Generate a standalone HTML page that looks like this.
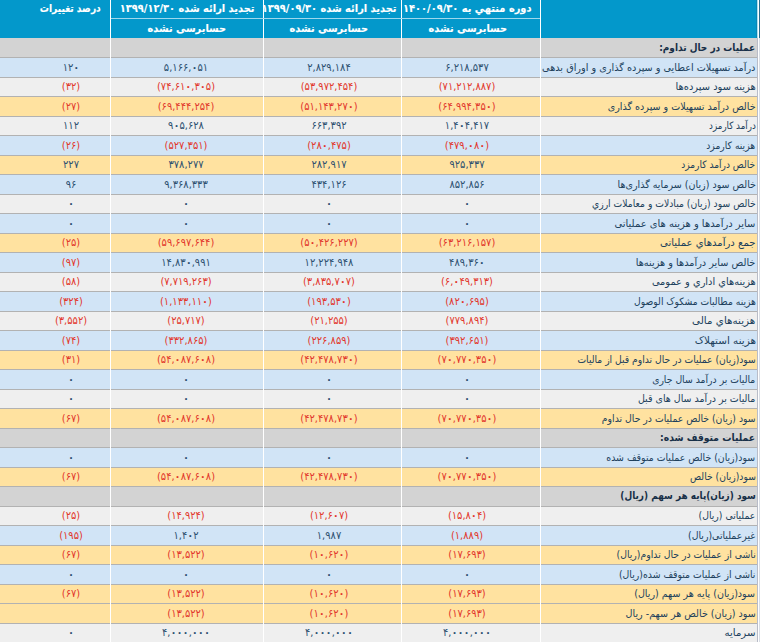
<!DOCTYPE html><html lang="fa"><head><meta charset="utf-8"><title>سود و زیان</title><style>

html,body{margin:0;padding:0;}
body{width:760px;height:642px;overflow:hidden;background:#fff;position:relative;
 font-family:"DejaVu Sans","Liberation Sans",sans-serif;}
div{position:absolute;box-sizing:border-box;}
.hd{left:0;top:0;width:757px;height:38px;background:#0398cb;}
.r{left:0;width:757px;}
.ln{left:0;width:757px;height:1px;background:#b2b2b2;}
.vl{width:1px;background:#fff;}
.t{white-space:nowrap;}
.lab{right:4.5px;direction:rtl;text-align:right;font-size:10.2px;color:#203f5c;transform-origin:100% 50%;}
.lab.b{font-weight:bold;font-size:10.4px;color:#172f47;}
.n{width:200px;text-align:center;direction:ltr;font-size:11px;color:#2d5070;transform:scaleX(0.9);}
.n.neg{color:#e2372c;}
.h{font-size:11px;font-weight:bold;color:#fff;-webkit-text-stroke:0.12px #fff;direction:rtl;text-align:right;transform-origin:100% 50%;}
.redge1{left:757px;width:1px;top:38px;height:604px;background:#b8bcc8;}
.redge0{left:757px;width:1px;top:0;height:38px;background:#a6e0f2;}
.redge5{left:756px;width:1px;top:0;height:38px;background:#0a86b4;}
.redge2{left:758px;width:1px;top:0;height:642px;background:#fff;}
.redge3{left:759px;width:1px;top:38px;height:604px;background:#d8dde5;}
.redge4{left:759px;width:1px;top:0;height:38px;background:#2a6e90;}

</style></head><body>
<div class="r" style="top:38px;height:19px;background:#d3d3d3"></div>
<div class="ln" style="top:57px"></div>
<div class="t lab b" style="top:38px;line-height:19px;transform:scaleX(0.8636)">عملیات در حال تداوم:</div>
<div class="r" style="top:58px;height:19px;background:#d1e4f6"></div>
<div class="ln" style="top:77px"></div>
<div class="t lab" style="top:58px;line-height:19px;transform:scaleX(0.9505)">درآمد تسهیلات اعطایی و سپرده گذاری و اوراق بدهی</div>
<div class="t n" style="left:367px;top:58px;line-height:19px">۶,۲۱۸,۵۳۷</div>
<div class="t n" style="left:229px;top:58px;line-height:19px">۲,۸۲۹,۱۸۴</div>
<div class="t n" style="left:86px;top:58px;line-height:19px">۵,۱۶۶,<b>۰</b>۵۱</div>
<div class="t n" style="left:-29px;top:58px;line-height:19px">۱۲<b>۰</b></div>
<div class="r" style="top:78px;height:18px;background:#efefef"></div>
<div class="ln" style="top:96px"></div>
<div class="t lab" style="top:78px;line-height:18px;transform:scaleX(0.9696)">هزینه سود سپرده‌ها</div>
<div class="t n neg" style="left:367px;top:78px;line-height:18px">(۷۱,۲۱۲,۸۸۷)</div>
<div class="t n neg" style="left:229px;top:78px;line-height:18px">(۵۳,۹۷۲,۴۵۴)</div>
<div class="t n neg" style="left:86px;top:78px;line-height:18px">(۷۴,۶۱<b>۰</b>,۳<b>۰</b>۵)</div>
<div class="t n neg" style="left:-29px;top:78px;line-height:18px">(۳۲)</div>
<div class="r" style="top:97px;height:19px;background:#ffe2a0"></div>
<div class="ln" style="top:116px"></div>
<div class="t lab" style="top:97px;line-height:19px;transform:scaleX(0.9382)">خالص درآمد تسهیلات و سپرده گذاری</div>
<div class="t n neg" style="left:367px;top:97px;line-height:19px">(۶۴,۹۹۴,۳۵<b>۰</b>)</div>
<div class="t n neg" style="left:229px;top:97px;line-height:19px">(۵۱,۱۴۳,۲۷<b>۰</b>)</div>
<div class="t n neg" style="left:86px;top:97px;line-height:19px">(۶۹,۴۴۴,۲۵۴)</div>
<div class="t n neg" style="left:-29px;top:97px;line-height:19px">(۲۷)</div>
<div class="r" style="top:117px;height:18px;background:#efefef"></div>
<div class="ln" style="top:135px"></div>
<div class="t lab" style="top:117px;line-height:18px;transform:scaleX(0.8529)">درآمد کارمزد</div>
<div class="t n" style="left:367px;top:117px;line-height:18px">۱,۴<b>۰</b>۴,۴۱۷</div>
<div class="t n" style="left:229px;top:117px;line-height:18px">۶۶۳,۳۹۲</div>
<div class="t n" style="left:86px;top:117px;line-height:18px">۹<b>۰</b>۵,۶۲۸</div>
<div class="t n" style="left:-29px;top:117px;line-height:18px">۱۱۲</div>
<div class="r" style="top:136px;height:19px;background:#d1e4f6"></div>
<div class="ln" style="top:155px"></div>
<div class="t lab" style="top:136px;line-height:19px;transform:scaleX(0.9038)">هزینه کارمزد</div>
<div class="t n neg" style="left:367px;top:136px;line-height:19px">(۴۷۹,<b>۰</b>۸<b>۰</b>)</div>
<div class="t n neg" style="left:229px;top:136px;line-height:19px">(۲۸<b>۰</b>,۴۷۵)</div>
<div class="t n neg" style="left:86px;top:136px;line-height:19px">(۵۲۷,۳۵۱)</div>
<div class="t n neg" style="left:-29px;top:136px;line-height:19px">(۲۶)</div>
<div class="r" style="top:156px;height:18px;background:#ffe2a0"></div>
<div class="ln" style="top:174px"></div>
<div class="t lab" style="top:156px;line-height:18px;transform:scaleX(0.8891)">خالص درآمد کارمزد</div>
<div class="t n" style="left:367px;top:156px;line-height:18px">۹۲۵,۳۳۷</div>
<div class="t n" style="left:229px;top:156px;line-height:18px">۲۸۲,۹۱۷</div>
<div class="t n" style="left:86px;top:156px;line-height:18px">۳۷۸,۲۷۷</div>
<div class="t n" style="left:-29px;top:156px;line-height:18px">۲۲۷</div>
<div class="r" style="top:175px;height:19px;background:#d1e4f6"></div>
<div class="ln" style="top:194px"></div>
<div class="t lab" style="top:175px;line-height:19px;transform:scaleX(0.9354)">خالص سود (زیان) سرمایه گذاری‌ها</div>
<div class="t n" style="left:367px;top:175px;line-height:19px">۸۵۲,۸۵۶</div>
<div class="t n" style="left:229px;top:175px;line-height:19px">۴۳۴,۱۲۶</div>
<div class="t n" style="left:86px;top:175px;line-height:19px">۹,۳۶۸,۳۳۳</div>
<div class="t n" style="left:-29px;top:175px;line-height:19px">۹۶</div>
<div class="r" style="top:195px;height:18px;background:#efefef"></div>
<div class="ln" style="top:213px"></div>
<div class="t lab" style="top:195px;line-height:18px;transform:scaleX(0.9061)">خالص سود (زیان) مبادلات و معاملات ارزي</div>
<div class="t n" style="left:367px;top:195px;line-height:18px"><b>۰</b></div>
<div class="t n" style="left:229px;top:195px;line-height:18px"><b>۰</b></div>
<div class="t n" style="left:86px;top:195px;line-height:18px"><b>۰</b></div>
<div class="t n" style="left:-29px;top:195px;line-height:18px"><b>۰</b></div>
<div class="r" style="top:214px;height:19px;background:#d1e4f6"></div>
<div class="ln" style="top:233px"></div>
<div class="t lab" style="top:214px;line-height:19px;transform:scaleX(0.9757)">سایر درآمدها و هزینه های عملیاتی</div>
<div class="t n" style="left:367px;top:214px;line-height:19px"><b>۰</b></div>
<div class="t n" style="left:229px;top:214px;line-height:19px"><b>۰</b></div>
<div class="t n" style="left:86px;top:214px;line-height:19px"><b>۰</b></div>
<div class="t n" style="left:-29px;top:214px;line-height:19px"><b>۰</b></div>
<div class="r" style="top:234px;height:18px;background:#ffe2a0"></div>
<div class="ln" style="top:252px"></div>
<div class="t lab" style="top:234px;line-height:18px;transform:scaleX(0.9896)">جمع درآمدهاي عملیاتی</div>
<div class="t n neg" style="left:367px;top:234px;line-height:18px">(۶۳,۲۱۶,۱۵۷)</div>
<div class="t n neg" style="left:229px;top:234px;line-height:18px">(۵<b>۰</b>,۴۲۶,۲۲۷)</div>
<div class="t n neg" style="left:86px;top:234px;line-height:18px">(۵۹,۶۹۷,۶۴۴)</div>
<div class="t n neg" style="left:-29px;top:234px;line-height:18px">(۲۵)</div>
<div class="r" style="top:253px;height:19px;background:#d1e4f6"></div>
<div class="ln" style="top:272px"></div>
<div class="t lab" style="top:253px;line-height:19px;transform:scaleX(0.9541)">خالص سایر درآمدها و هزینه‌ها</div>
<div class="t n" style="left:367px;top:253px;line-height:19px">۴۸۹,۳۶<b>۰</b></div>
<div class="t n" style="left:229px;top:253px;line-height:19px">۱۲,۲۲۴,۹۴۸</div>
<div class="t n" style="left:86px;top:253px;line-height:19px">۱۴,۸۳<b>۰</b>,۹۹۱</div>
<div class="t n neg" style="left:-29px;top:253px;line-height:19px">(۹۷)</div>
<div class="r" style="top:273px;height:18px;background:#efefef"></div>
<div class="ln" style="top:291px"></div>
<div class="t lab" style="top:273px;line-height:18px;transform:scaleX(0.9637)">هزینه‌هاي اداري و عمومی</div>
<div class="t n neg" style="left:367px;top:273px;line-height:18px">(۶,<b>۰</b>۴۹,۳۱۳)</div>
<div class="t n neg" style="left:229px;top:273px;line-height:18px">(۳,۸۳۵,۷<b>۰</b>۷)</div>
<div class="t n neg" style="left:86px;top:273px;line-height:18px">(۷,۷۱۹,۲۶۳)</div>
<div class="t n neg" style="left:-29px;top:273px;line-height:18px">(۵۸)</div>
<div class="r" style="top:292px;height:19px;background:#d1e4f6"></div>
<div class="ln" style="top:311px"></div>
<div class="t lab" style="top:292px;line-height:19px;transform:scaleX(0.9030)">هزینه مطالبات مشکوک الوصول</div>
<div class="t n neg" style="left:367px;top:292px;line-height:19px">(۸۲<b>۰</b>,۶۹۵)</div>
<div class="t n neg" style="left:229px;top:292px;line-height:19px">(۱۹۳,۵۳<b>۰</b>)</div>
<div class="t n neg" style="left:86px;top:292px;line-height:19px">(۱,۱۳۳,۱۱<b>۰</b>)</div>
<div class="t n neg" style="left:-29px;top:292px;line-height:19px">(۳۲۴)</div>
<div class="r" style="top:312px;height:18px;background:#efefef"></div>
<div class="ln" style="top:330px"></div>
<div class="t lab" style="top:312px;line-height:18px;transform:scaleX(1.0146)">هزینه‌هاي مالی</div>
<div class="t n neg" style="left:367px;top:312px;line-height:18px">(۷۷۹,۸۹۴)</div>
<div class="t n neg" style="left:229px;top:312px;line-height:18px">(۲۱,۲۵۵)</div>
<div class="t n neg" style="left:86px;top:312px;line-height:18px">(۲۵,۷۱۷)</div>
<div class="t n neg" style="left:-29px;top:312px;line-height:18px">(۳,۵۵۲)</div>
<div class="r" style="top:331px;height:19px;background:#d1e4f6"></div>
<div class="ln" style="top:350px"></div>
<div class="t lab" style="top:331px;line-height:19px;transform:scaleX(1.0217)">هزینه استهلاک</div>
<div class="t n neg" style="left:367px;top:331px;line-height:19px">(۳۹۲,۶۵۱)</div>
<div class="t n neg" style="left:229px;top:331px;line-height:19px">(۲۲۶,۸۵۹)</div>
<div class="t n neg" style="left:86px;top:331px;line-height:19px">(۳۳۲,۸۶۵)</div>
<div class="t n neg" style="left:-29px;top:331px;line-height:19px">(۷۴)</div>
<div class="r" style="top:351px;height:18px;background:#ffe2a0"></div>
<div class="ln" style="top:369px"></div>
<div class="t lab" style="top:351px;line-height:18px;transform:scaleX(0.9015)">سود(زیان) عملیات در حال تداوم قبل از مالیات</div>
<div class="t n neg" style="left:367px;top:351px;line-height:18px">(۷<b>۰</b>,۷۷<b>۰</b>,۳۵<b>۰</b>)</div>
<div class="t n neg" style="left:229px;top:351px;line-height:18px">(۴۲,۴۷۸,۷۳<b>۰</b>)</div>
<div class="t n neg" style="left:86px;top:351px;line-height:18px">(۵۴,<b>۰</b>۸۷,۶<b>۰</b>۸)</div>
<div class="t n neg" style="left:-29px;top:351px;line-height:18px">(۳۱)</div>
<div class="r" style="top:370px;height:19px;background:#d1e4f6"></div>
<div class="ln" style="top:389px"></div>
<div class="t lab" style="top:370px;line-height:19px;transform:scaleX(0.9106)">مالیات بر درآمد سال جاری</div>
<div class="t n" style="left:367px;top:370px;line-height:19px"><b>۰</b></div>
<div class="t n" style="left:229px;top:370px;line-height:19px"><b>۰</b></div>
<div class="t n" style="left:86px;top:370px;line-height:19px"><b>۰</b></div>
<div class="t n" style="left:-29px;top:370px;line-height:19px"><b>۰</b></div>
<div class="r" style="top:390px;height:18px;background:#efefef"></div>
<div class="ln" style="top:408px"></div>
<div class="t lab" style="top:390px;line-height:18px;transform:scaleX(0.9294)">مالیات بر درآمد سال های قبل</div>
<div class="t n" style="left:367px;top:390px;line-height:18px"><b>۰</b></div>
<div class="t n" style="left:229px;top:390px;line-height:18px"><b>۰</b></div>
<div class="t n" style="left:86px;top:390px;line-height:18px"><b>۰</b></div>
<div class="t n" style="left:-29px;top:390px;line-height:18px"><b>۰</b></div>
<div class="r" style="top:409px;height:19px;background:#ffe2a0"></div>
<div class="ln" style="top:428px"></div>
<div class="t lab" style="top:409px;line-height:19px;transform:scaleX(0.9120)">سود (زیان) خالص عملیات در حال تداوم</div>
<div class="t n neg" style="left:367px;top:409px;line-height:19px">(۷<b>۰</b>,۷۷<b>۰</b>,۳۵<b>۰</b>)</div>
<div class="t n neg" style="left:229px;top:409px;line-height:19px">(۴۲,۴۷۸,۷۳<b>۰</b>)</div>
<div class="t n neg" style="left:86px;top:409px;line-height:19px">(۵۴,<b>۰</b>۸۷,۶<b>۰</b>۸)</div>
<div class="t n neg" style="left:-29px;top:409px;line-height:19px">(۶۷)</div>
<div class="r" style="top:429px;height:18px;background:#d3d3d3"></div>
<div class="ln" style="top:447px"></div>
<div class="t lab b" style="top:428px;line-height:18px;transform:scaleX(0.8871)">عملیات متوقف شده:</div>
<div class="r" style="top:448px;height:19px;background:#d1e4f6"></div>
<div class="ln" style="top:467px"></div>
<div class="t lab" style="top:448px;line-height:19px;transform:scaleX(0.9180)">سود(زیان) خالص عملیات متوقف شده</div>
<div class="t n" style="left:367px;top:448px;line-height:19px"><b>۰</b></div>
<div class="t n" style="left:229px;top:448px;line-height:19px"><b>۰</b></div>
<div class="t n" style="left:86px;top:448px;line-height:19px"><b>۰</b></div>
<div class="t n" style="left:-29px;top:448px;line-height:19px"><b>۰</b></div>
<div class="r" style="top:468px;height:18px;background:#ffe2a0"></div>
<div class="ln" style="top:486px"></div>
<div class="t lab" style="top:468px;line-height:18px;transform:scaleX(0.9030)">سود(زیان) خالص</div>
<div class="t n neg" style="left:367px;top:468px;line-height:18px">(۷<b>۰</b>,۷۷<b>۰</b>,۳۵<b>۰</b>)</div>
<div class="t n neg" style="left:229px;top:468px;line-height:18px">(۴۲,۴۷۸,۷۳<b>۰</b>)</div>
<div class="t n neg" style="left:86px;top:468px;line-height:18px">(۵۴,<b>۰</b>۸۷,۶<b>۰</b>۸)</div>
<div class="t n neg" style="left:-29px;top:468px;line-height:18px">(۶۷)</div>
<div class="r" style="top:487px;height:19px;background:#d3d3d3"></div>
<div class="ln" style="top:506px"></div>
<div class="t lab b" style="top:486px;line-height:19px;transform:scaleX(0.8586)">سود (زیان)پایه هر سهم (ریال)</div>
<div class="r" style="top:507px;height:18px;background:#efefef"></div>
<div class="ln" style="top:525px"></div>
<div class="t lab" style="top:507px;line-height:18px;transform:scaleX(0.9101)">عملیاتی (ریال)</div>
<div class="t n neg" style="left:367px;top:507px;line-height:18px">(۱۵,۸<b>۰</b>۴)</div>
<div class="t n neg" style="left:229px;top:507px;line-height:18px">(۱۲,۶<b>۰</b>۷)</div>
<div class="t n neg" style="left:86px;top:507px;line-height:18px">(۱۴,۹۲۴)</div>
<div class="t n neg" style="left:-29px;top:507px;line-height:18px">(۲۵)</div>
<div class="r" style="top:526px;height:19px;background:#d1e4f6"></div>
<div class="ln" style="top:545px"></div>
<div class="t lab" style="top:526px;line-height:19px;transform:scaleX(0.9165)">غیرعملیاتی(ریال)</div>
<div class="t n neg" style="left:367px;top:526px;line-height:19px">(۱,۸۸۹)</div>
<div class="t n" style="left:229px;top:526px;line-height:19px">۱,۹۸۷</div>
<div class="t n" style="left:86px;top:526px;line-height:19px">۱,۴<b>۰</b>۲</div>
<div class="t n neg" style="left:-29px;top:526px;line-height:19px">(۱۹۵)</div>
<div class="r" style="top:546px;height:18px;background:#ffe2a0"></div>
<div class="ln" style="top:564px"></div>
<div class="t lab" style="top:546px;line-height:18px;transform:scaleX(0.9112)">ناشی از عملیات در حال تداوم(ریال)</div>
<div class="t n neg" style="left:367px;top:546px;line-height:18px">(۱۷,۶۹۳)</div>
<div class="t n neg" style="left:229px;top:546px;line-height:18px">(۱<b>۰</b>,۶۲<b>۰</b>)</div>
<div class="t n neg" style="left:86px;top:546px;line-height:18px">(۱۳,۵۲۲)</div>
<div class="t n neg" style="left:-29px;top:546px;line-height:18px">(۶۷)</div>
<div class="r" style="top:565px;height:19px;background:#d1e4f6"></div>
<div class="ln" style="top:584px"></div>
<div class="t lab" style="top:565px;line-height:19px;transform:scaleX(0.9134)">ناشی از عملیات متوقف شده(ریال)</div>
<div class="t n" style="left:367px;top:565px;line-height:19px"><b>۰</b></div>
<div class="t n" style="left:229px;top:565px;line-height:19px"><b>۰</b></div>
<div class="t n" style="left:86px;top:565px;line-height:19px"><b>۰</b></div>
<div class="t n" style="left:-29px;top:565px;line-height:19px"><b>۰</b></div>
<div class="r" style="top:585px;height:18px;background:#ffe2a0"></div>
<div class="ln" style="top:603px"></div>
<div class="t lab" style="top:585px;line-height:18px;transform:scaleX(0.9367)">سود(زیان) پایه هر سهم (ریال)</div>
<div class="t n neg" style="left:367px;top:585px;line-height:18px">(۱۷,۶۹۳)</div>
<div class="t n neg" style="left:229px;top:585px;line-height:18px">(۱<b>۰</b>,۶۲<b>۰</b>)</div>
<div class="t n neg" style="left:86px;top:585px;line-height:18px">(۱۳,۵۲۲)</div>
<div class="t n neg" style="left:-29px;top:585px;line-height:18px">(۶۷)</div>
<div class="r" style="top:604px;height:19px;background:#ffe2a0"></div>
<div class="ln" style="top:623px"></div>
<div class="t lab" style="top:604px;line-height:19px;transform:scaleX(0.9384)">سود (زیان) خالص هر سهم- ریال</div>
<div class="t n neg" style="left:367px;top:604px;line-height:19px">(۱۷,۶۹۳)</div>
<div class="t n neg" style="left:229px;top:604px;line-height:19px">(۱<b>۰</b>,۶۲<b>۰</b>)</div>
<div class="t n neg" style="left:86px;top:604px;line-height:19px">(۱۳,۵۲۲)</div>
<div class="r" style="top:624px;height:18px;background:#efefef"></div>
<div class="t lab" style="top:624px;line-height:18px;transform:scaleX(1.0000)">سرمایه</div>
<div class="t n" style="left:367px;top:624px;line-height:18px">۴,<b>۰</b><b>۰</b><b>۰</b>,<b>۰</b><b>۰</b><b>۰</b></div>
<div class="t n" style="left:229px;top:624px;line-height:18px">۴,<b>۰</b><b>۰</b><b>۰</b>,<b>۰</b><b>۰</b><b>۰</b></div>
<div class="t n" style="left:86px;top:624px;line-height:18px">۴,<b>۰</b><b>۰</b><b>۰</b>,<b>۰</b><b>۰</b><b>۰</b></div>
<div class="t n" style="left:-29px;top:624px;line-height:18px"><b>۰</b></div>
<div class="hd"></div>
<div class="t h" style="right:228.80px;top:0px;line-height:18px;transform:scaleX(0.8950)">دوره منتهي به ۱۴۰۰/۰۹/۳۰</div>
<div class="t h" style="right:363.70px;top:0px;line-height:18px;transform:scaleX(0.8950)">تجديد ارائه شده ۱۳۹۹/۰۹/۳۰</div>
<div class="t h" style="right:505.90px;top:0px;line-height:18px;transform:scaleX(0.8950)">تجديد ارائه شده ۱۳۹۹/۱۲/۳۰</div>
<div class="t h" style="right:658.80px;top:0px;line-height:18px;transform:scaleX(0.8260)">درصد تغییرات</div>
<div class="t h" style="right:252.70px;top:19px;line-height:19px;transform:scaleX(0.8930)">حسابرسی نشده</div>
<div class="t h" style="right:391.50px;top:19px;line-height:19px;transform:scaleX(0.8930)">حسابرسی نشده</div>
<div class="t h" style="right:533.60px;top:19px;line-height:19px;transform:scaleX(0.8930)">حسابرسی نشده</div>
<div class="vl" style="left:110px;top:0;height:642px"></div>
<div class="vl" style="left:263px;top:0;height:642px"></div>
<div class="vl" style="left:401px;top:0;height:642px"></div>
<div class="vl" style="left:540px;top:0;height:642px"></div>
<div style="left:111px;top:18px;width:429px;height:1px;background:#9fd8ec"></div>
<div class="redge0"></div><div class="redge5"></div><div class="redge1"></div><div class="redge2"></div><div class="redge3"></div><div class="redge4"></div>
</body></html>
